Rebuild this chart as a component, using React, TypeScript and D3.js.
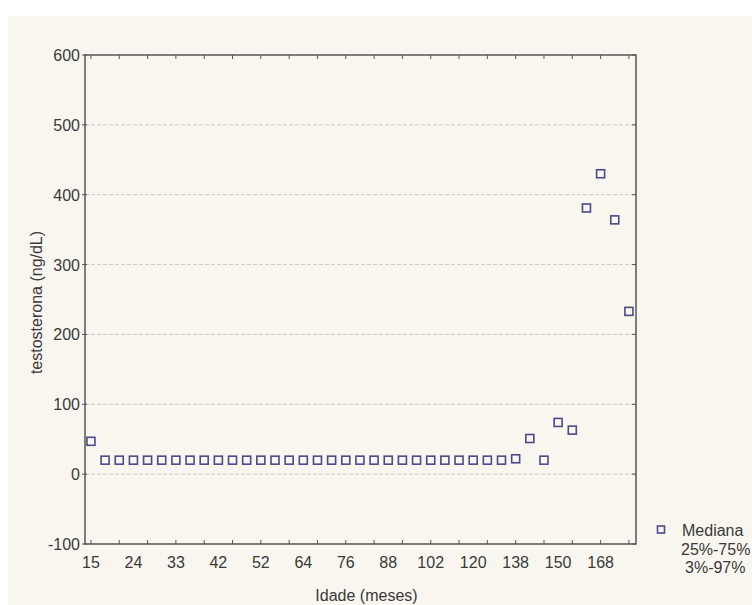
import React from 'react';
import * as d3 from 'd3';

// median testosterone per age group (one value per category index)
const medianValues = [
  47, 20, 20, 20, 20, 20, 20, 20, 20, 20,
  20, 20, 20, 20, 20, 20, 20, 20, 20, 20,
  20, 20, 20, 20, 20, 20, 20, 20, 20, 20,
  22, 51, 20, 74, 63, 381, 430, 364, 233,
];
// age labels shown every third category
const ageLabels = ['15', '24', '33', '42', '52', '64', '76', '88', '102', '120', '138', '150', '168'];
const yTicks = [-100, 0, 100, 200, 300, 400, 500, 600];
const legendLabels = ['Mediana', '25%-75%', '3%-97%'];

const W = 752;
const H = 605;
const plot = { left: 85, right: 636, top: 55, bottom: 544 };
const font = '"Liberation Sans", Arial, sans-serif';
const textColor = '#3a3a3a';
const axisColor = '#555';
const markColor = '#4c4a8a';

export default function App() {
  const x = d3.scaleLinear().domain([-0.42, medianValues.length - 0.5]).range([plot.left, plot.right]);
  const y = d3.scaleLinear().domain([-100, 600]).range([plot.bottom, plot.top]);

  const minorIdx = d3.range(0, medianValues.length, 2);
  const labelIdx = ageLabels.map((_, i) => i * 3);
  const tick = 4;

  return (
    <svg
      width={W}
      height={H}
      style={{ position: 'absolute', left: 0, top: 0, display: 'block' }}
      fontFamily={font}
    >
      <rect x={0} y={0} width={W} height={H} fill="#fff" />
      <rect x={8} y={16} width={W - 8} height={H - 16} fill="#f9f6ef" />

      {/* grid lines */}
      {yTicks.filter(t => t > -100 && t < 600).map(t => (
        <line
          key={'g' + t}
          x1={plot.left}
          x2={plot.right}
          y1={y(t)}
          y2={y(t)}
          stroke="#c9c9c6"
          strokeWidth={1}
          strokeDasharray="4,2"
        />
      ))}

      {/* frame */}
      <rect
        x={plot.left}
        y={plot.top}
        width={plot.right - plot.left}
        height={plot.bottom - plot.top}
        fill="none"
        stroke={axisColor}
        strokeWidth={1.5}
      />

      {/* x ticks top and bottom */}
      {minorIdx.map(i => (
        <g key={'xt' + i} stroke={axisColor} strokeWidth={1}>
          <line x1={x(i)} x2={x(i)} y1={plot.bottom} y2={plot.bottom - tick} />
          <line x1={x(i)} x2={x(i)} y1={plot.top} y2={plot.top + tick} />
        </g>
      ))}

      {/* y ticks left and right */}
      {yTicks.map(t => (
        <g key={'yt' + t} stroke={axisColor} strokeWidth={1}>
          <line x1={plot.left - 3} x2={plot.left + 2} y1={y(t)} y2={y(t)} />
          <line x1={plot.right} x2={plot.right - tick} y1={y(t)} y2={y(t)} />
        </g>
      ))}

      {/* y tick labels */}
      {yTicks.map(t => (
        <text key={'yl' + t} x={80} y={y(t) + 6} textAnchor="end" fontSize={16} fill={textColor}>
          {t}
        </text>
      ))}

      {/* x tick labels */}
      {labelIdx.map((idx, i) => (
        <text key={'xl' + idx} x={x(idx)} y={568} textAnchor="middle" fontSize={16} fill={textColor}>
          {ageLabels[i]}
        </text>
      ))}

      {/* axis titles */}
      <text x={(plot.left + plot.right) / 2 + 6} y={601} textAnchor="middle" fontSize={16} fill={textColor}>
        Idade (meses)
      </text>
      <text
        transform={`translate(42, ${(plot.top + plot.bottom) / 2 + 3}) rotate(-90)`}
        textAnchor="middle"
        fontSize={16}
        fill={textColor}
      >
        testosterona (ng/dL)
      </text>

      {/* median markers */}
      {medianValues.map((v, i) => (
        <rect
          key={'m' + i}
          x={x(i) - 4}
          y={y(v) - 4}
          width={8}
          height={8}
          fill="none"
          stroke={markColor}
          strokeWidth={1.6}
        />
      ))}

      {/* legend */}
      <rect x={657.5} y={526} width={7} height={7} fill="none" stroke={markColor} strokeWidth={1.6} />
      <text x={682} y={536} fontSize={16} fill={textColor}>{legendLabels[0]}</text>
      <text x={681} y={555} fontSize={16} fill={textColor}>{legendLabels[1]}</text>
      <text x={685} y={573} fontSize={16} fill={textColor}>{legendLabels[2]}</text>
    </svg>
  );
}
